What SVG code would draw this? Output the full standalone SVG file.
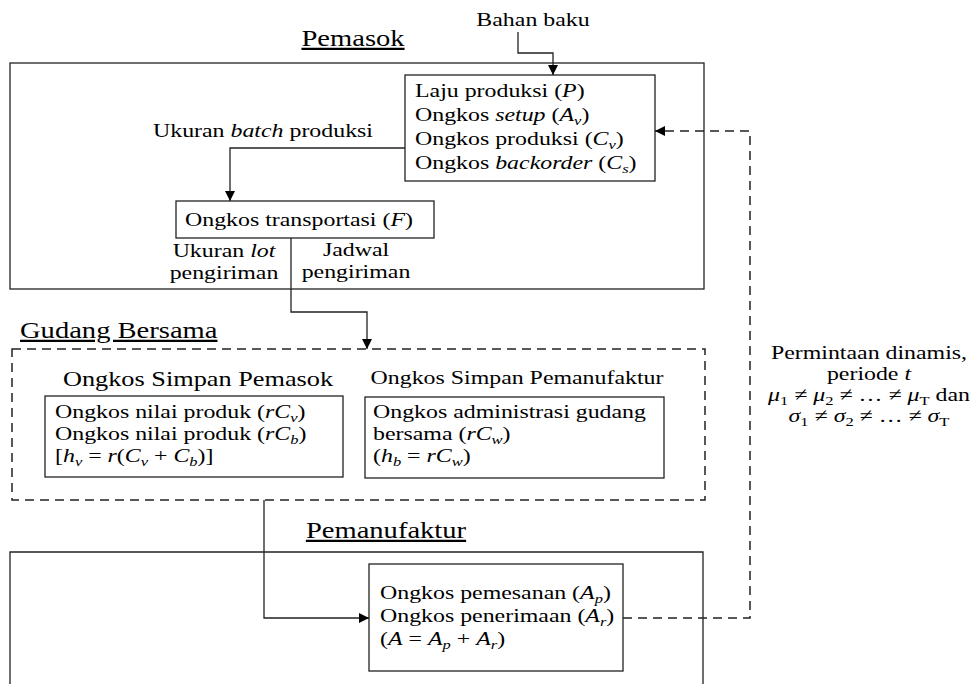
<svg xmlns="http://www.w3.org/2000/svg" width="972" height="684" viewBox="0 0 972 684">
<defs>
<style>
.t{font-family:"Liberation Serif","Times New Roman",serif;font-size:18.8px;fill:#000}
.h{font-size:22.5px;text-decoration:underline}
.m{font-size:20.7px}
.i{font-style:italic}
.s{font-size:13px}
.box{fill:#fff;stroke:#222;stroke-width:1.3}
.frame{fill:none;stroke:#222;stroke-width:1.3}
.dash{fill:none;stroke:#222;stroke-width:1.5;stroke-dasharray:9 6}
.ln{fill:none;stroke:#222;stroke-width:1.3}
</style>
<marker id="ah" viewBox="0 0 10 10" refX="10" refY="5" markerWidth="11" markerHeight="10" markerUnits="userSpaceOnUse" orient="auto">
<path d="M0,0 L10,5 L0,10 z" fill="#000"/>
</marker>
</defs>

<g id="pemasok">
<rect class="frame" x="10" y="63" width="694" height="226"/>
<text class="t h" transform="translate(353,46) scale(1.27,1)" text-anchor="middle">Pemasok</text>
</g>

<g id="bahan-baku">
<text class="t" transform="translate(533,26) scale(1.27,1)" text-anchor="middle">Bahan baku</text>
</g>

<g id="produksi">
<rect class="box" x="405" y="75" width="250" height="106"/>
<text class="t" transform="translate(415,97) scale(1.27,1)"><tspan x="0" y="0">Laju produksi (<tspan class="i">P</tspan>)</tspan><tspan x="0" y="24">Ongkos <tspan class="i">setup</tspan> (<tspan class="i">A</tspan><tspan class="i s" dy="4">v</tspan><tspan dy="-4">)</tspan></tspan><tspan x="0" y="48">Ongkos produksi (<tspan class="i">C</tspan><tspan class="i s" dy="4">v</tspan><tspan dy="-4">)</tspan></tspan><tspan x="0" y="72">Ongkos <tspan class="i">backorder</tspan> (<tspan class="i">C</tspan><tspan class="i s" dy="4">s</tspan><tspan dy="-4">)</tspan></tspan></text>
</g>

<g id="batch-label">
<text class="t" transform="translate(153,137) scale(1.27,1)">Ukuran <tspan class="i">batch</tspan> produksi</text>
</g>

<g id="transportasi">
<rect class="box" x="176" y="201" width="258" height="37"/>
<text class="t" transform="translate(185,226) scale(1.27,1)">Ongkos transportasi (<tspan class="i">F</tspan>)</text>
</g>

<g id="lot-label">
<text class="t" transform="translate(224,257) scale(1.27,1)" text-anchor="middle"><tspan x="0" y="0">Ukuran <tspan class="i">lot</tspan></tspan><tspan x="0" y="22">pengiriman</tspan></text>
</g>
<g id="jadwal-label">
<text class="t" transform="translate(356,256) scale(1.27,1)" text-anchor="middle"><tspan x="0" y="0">Jadwal</tspan><tspan x="0" y="22">pengiriman</tspan></text>
</g>

<g id="gudang">
<rect class="dash" x="12" y="349" width="693" height="151"/>
<text class="t h" transform="translate(20,338) scale(1.27,1)">Gudang Bersama</text>
</g>

<g id="simpan-pemasok">
<text class="t m" transform="translate(198,386) scale(1.27,1)" text-anchor="middle">Ongkos Simpan Pemasok</text>
<rect class="box" x="45" y="396" width="298" height="81"/>
<text class="t" transform="translate(55,418) scale(1.27,1)"><tspan x="0" y="0">Ongkos nilai produk (<tspan class="i">rC</tspan><tspan class="i s" dy="4">v</tspan><tspan dy="-4">)</tspan></tspan><tspan x="0" y="22">Ongkos nilai produk (<tspan class="i">rC</tspan><tspan class="i s" dy="4">b</tspan><tspan dy="-4">)</tspan></tspan><tspan x="0" y="44">[<tspan class="i">h</tspan><tspan class="i s" dy="4">v</tspan><tspan dy="-4"> = </tspan><tspan class="i">r</tspan>(<tspan class="i">C</tspan><tspan class="i s" dy="4">v</tspan><tspan dy="-4"> + </tspan><tspan class="i">C</tspan><tspan class="i s" dy="4">b</tspan><tspan dy="-4">)]</tspan></tspan></text>
</g>

<g id="simpan-pemanufaktur">
<text class="t" transform="translate(517,384) scale(1.27,1)" text-anchor="middle">Ongkos Simpan Pemanufaktur</text>
<rect class="box" x="365" y="397" width="299" height="81"/>
<text class="t" transform="translate(373,418) scale(1.27,1)"><tspan x="0" y="0">Ongkos administrasi gudang</tspan><tspan x="0" y="22">bersama (<tspan class="i">rC</tspan><tspan class="i s" dy="4">w</tspan><tspan dy="-4">)</tspan></tspan><tspan x="0" y="44">(<tspan class="i">h</tspan><tspan class="i s" dy="4">b</tspan><tspan dy="-4"> = </tspan><tspan class="i">rC</tspan><tspan class="i s" dy="4">w</tspan><tspan dy="-4">)</tspan></tspan></text>
</g>

<g id="permintaan">
<text class="t" transform="translate(869,359) scale(1.27,1)" text-anchor="middle"><tspan x="0" y="0">Permintaan dinamis,</tspan><tspan x="0" y="21">periode <tspan class="i">t</tspan></tspan><tspan x="0" y="42"><tspan class="i">μ</tspan><tspan class="s" dy="4">1</tspan><tspan dy="-4"> ≠ </tspan><tspan class="i">μ</tspan><tspan class="s" dy="4">2</tspan><tspan dy="-4"> ≠ … ≠ </tspan><tspan class="i">μ</tspan><tspan class="s" dy="4">T</tspan><tspan dy="-4"> dan</tspan></tspan><tspan x="0" y="63"><tspan class="i">σ</tspan><tspan class="s" dy="4">1</tspan><tspan dy="-4"> ≠ </tspan><tspan class="i">σ</tspan><tspan class="s" dy="4">2</tspan><tspan dy="-4"> ≠ … ≠ </tspan><tspan class="i">σ</tspan><tspan class="s" dy="4">T</tspan></tspan></text>
</g>

<g id="pemanufaktur">
<path class="frame" d="M10,690 V552 H703 V690"/>
<text class="t h" transform="translate(386,538) scale(1.27,1)" text-anchor="middle">Pemanufaktur</text>
</g>

<g id="pemesanan">
<rect class="box" x="369" y="564" width="254" height="107"/>
<text class="t" transform="translate(380,599) scale(1.27,1)"><tspan x="0" y="0">Ongkos pemesanan (<tspan class="i">A</tspan><tspan class="i s" dy="4">p</tspan><tspan dy="-4">)</tspan></tspan><tspan x="0" y="23">Ongkos penerimaan (<tspan class="i">A</tspan><tspan class="i s" dy="4">r</tspan><tspan dy="-4">)</tspan></tspan><tspan x="0" y="46">(<tspan class="i">A</tspan> = <tspan class="i">A</tspan><tspan class="i s" dy="4">p</tspan><tspan dy="-4"> + </tspan><tspan class="i">A</tspan><tspan class="i s" dy="4">r</tspan><tspan dy="-4">)</tspan></tspan></text>
</g>

<g id="connectors">
<path class="ln" d="M518,32 V53 H553 V75" marker-end="url(#ah)"/>
<path class="ln" d="M405,148 H230 V201" marker-end="url(#ah)"/>
<path class="ln" d="M291,238 V312 H367 V349" marker-end="url(#ah)"/>
<path class="ln" d="M264,500 V618 H369" marker-end="url(#ah)"/>
<path class="dash" d="M623,618 H750 V131 H655" marker-end="url(#ah)"/>
</g>
</svg>
